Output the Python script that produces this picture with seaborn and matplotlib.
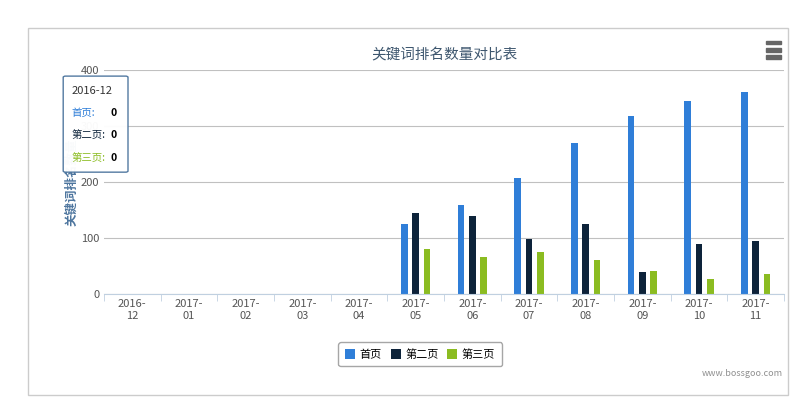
import matplotlib.pyplot as plt
import seaborn as sns
import pandas as pd
from matplotlib.patches import Rectangle, FancyBboxPatch

plt.rcParams['font.family'] = ['Noto Sans CJK SC', 'DejaVu Sans']

months = ['2016-\n12', '2017-\n01', '2017-\n02', '2017-\n03', '2017-\n04', '2017-\n05',
          '2017-\n06', '2017-\n07', '2017-\n08', '2017-\n09', '2017-\n10', '2017-\n11']
page1 = [0, 0, 0, 0, 0, 125, 159, 207, 270, 318, 345, 361]
page2 = [0, 0, 0, 0, 0, 145, 139, 98, 125, 39, 89, 96]
page3 = [0, 0, 0, 0, 0, 80, 66, 75, 61, 41, 27, 36]
series = ['首页', '第二页', '第三页']
colors = ['#2f7ed8', '#0d233a', '#8bbc21']

df = pd.DataFrame({'month': months * 3,
                   'value': page1 + page2 + page3,
                   'series': [s for s in series for _ in months]})

fig = plt.figure(figsize=(8, 4.07), dpi=100)
fig.patches.append(Rectangle((0.035, 0.03), 0.95, 0.9, transform=fig.transFigure,
                             fill=False, ec='#cccccc', lw=1))
ax = fig.add_axes([0.13, 0.277, 0.85, 0.55])
sns.barplot(data=df, x='month', y='value', hue='series', palette=colors,
            width=0.6, ax=ax, saturation=1)
# narrow bars with gaps, as in the original
for p in ax.patches:
    w = p.get_width()
    p.set_x(p.get_x() + w * 0.2)
    p.set_width(w * 0.6)
ax.set_ylim(0, 400)
ax.set_yticks([0, 100, 200, 300, 400])
ax.set_xlim(-0.5, 11.5)
ax.grid(axis='y', color='#c0c0c0', lw=0.8)
ax.set_axisbelow(True)
for s in ['top', 'right', 'left']:
    ax.spines[s].set_visible(False)
ax.spines['bottom'].set_color('#c0d0e0')
ax.tick_params(axis='y', length=0, labelsize=8, colors='#555555')
ax.set_xticks([i + 0.5 for i in range(-1, 12)], minor=True)
ax.tick_params(axis='x', which='major', length=0, labelsize=8, colors='#555555')
ax.tick_params(axis='x', which='minor', length=5, color='#c0d0e0')
ax.set_xlabel('')
ax.set_ylabel('关键词排名数量', fontsize=9, color='#4d759e', fontweight='bold', labelpad=2)
ax.set_title('关键词排名数量对比表', fontsize=10.5, color='#3e576f', pad=8)

leg = ax.legend(loc='upper center', bbox_to_anchor=(0.465, -0.19), ncol=3, frameon=True,
                fontsize=8, handlelength=0.9, handleheight=0.9, handletextpad=0.4,
                columnspacing=0.8, fancybox=True, borderpad=0.6)
leg.get_frame().set_edgecolor('#909090')

# tooltip
fig.patches.append(FancyBboxPatch((0.082, 0.58), 0.075, 0.23, transform=fig.transFigure,
                                  boxstyle='round,pad=0.003', fc='#ffffff', ec='#4d759e',
                                  lw=1, alpha=0.97, zorder=5))
fig.text(0.089, 0.77, '2016-12', fontsize=8, color='#333333', zorder=6)
fig.text(0.089, 0.715, '首页:', fontsize=7.5, color='#2f7ed8', zorder=6)
fig.text(0.138, 0.715, '0', fontsize=7.5, fontweight='bold', color='#000000', zorder=6)
fig.text(0.089, 0.66, '第二页:', fontsize=7.5, color='#0d233a', zorder=6)
fig.text(0.138, 0.66, '0', fontsize=7.5, fontweight='bold', color='#000000', zorder=6)
fig.text(0.089, 0.605, '第三页:', fontsize=7.5, color='#8bbc21', zorder=6)
fig.text(0.138, 0.605, '0', fontsize=7.5, fontweight='bold', color='#000000', zorder=6)

# menu icon
for dy in [0, 0.018, 0.036]:
    fig.patches.append(Rectangle((0.958, 0.855 + dy), 0.018, 0.009,
                                 transform=fig.transFigure, color='#666666'))
fig.text(0.978, 0.075, 'www.bossgoo.com', fontsize=6.5, color='#909090', ha='right')

fig.savefig('out.png', dpi=100)
